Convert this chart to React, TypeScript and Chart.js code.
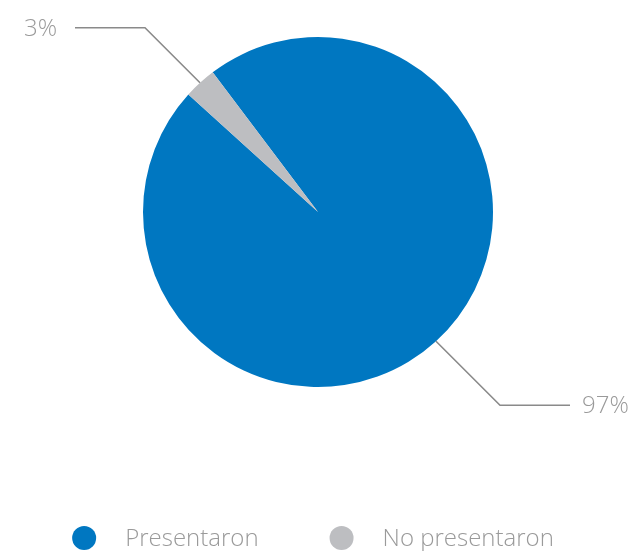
import React, { useEffect, useRef } from "react";
import { Chart, registerables } from "chart.js";

Chart.register(...registerables);

const categories = ["Presentaron", "No presentaron"];
const values = [97, 3];
const valueLabels = ["97%", "3%"];
const colors = ["#0077C1", "#BDBEC1"];

const FONT = "'Open Sans', 'Noto Sans', sans-serif";
const TEXT_COLOR = "#9a9a9a";
const LINE_COLOR = "#8a8a8a";

const leaderPlugin = {
  id: "leaderLabels",
  afterDatasetsDraw(chart: any) {
    const ctx = chart.ctx;
    const meta = chart.getDatasetMeta(0);
    const diag = [64, 55];
    const textGap = [12, 18];
    ctx.save();
    meta.data.forEach((arc: any, i: number) => {
      const { x, y, startAngle, endAngle, outerRadius } = arc.getProps(
        ["x", "y", "startAngle", "endAngle", "outerRadius"],
        true
      );
      const mid = (startAngle + endAngle) / 2;
      const px = x + Math.cos(mid) * outerRadius;
      const py = y + Math.sin(mid) * outerRadius;
      const sx = Math.cos(mid) >= 0 ? 1 : -1;
      const sy = Math.sin(mid) >= 0 ? 1 : -1;
      const d = diag[i] ?? 58;
      const ex = px + sx * d;
      const ey = py + sy * d;
      const hx = ex + sx * 70;
      ctx.beginPath();
      ctx.strokeStyle = LINE_COLOR;
      ctx.lineWidth = 1.6;
      ctx.moveTo(px, py);
      ctx.lineTo(ex, ey);
      ctx.lineTo(hx, ey);
      ctx.stroke();
      ctx.fillStyle = TEXT_COLOR;
      ctx.font = `300 24px ${FONT}`;
      ctx.textBaseline = "middle";
      ctx.textAlign = sx > 0 ? "left" : "right";
      ctx.fillText(valueLabels[i], hx + sx * (textGap[i] ?? 15), ey + 1);
    });
    ctx.restore();
  },
};

const legendPlugin = {
  id: "customLegend",
  afterDraw(chart: any) {
    const ctx = chart.ctx;
    const labels: string[] = chart.data.labels;
    const bg: string[] = chart.data.datasets[0].backgroundColor;
    const r = 12;
    const gapText = 29;
    const spacing = 71;
    const cy = 538;
    ctx.save();
    ctx.font = `300 24px ${FONT}`;
    const widths = labels.map((l) => ctx.measureText(l).width);
    const total =
      widths.reduce((a, w) => a + 2 * r + gapText + w, 0) + spacing * (labels.length - 1);
    let x = chart.width / 2 - 3 - total / 2;
    labels.forEach((l, i) => {
      ctx.beginPath();
      ctx.fillStyle = bg[i];
      ctx.arc(x + r, cy, r, 0, Math.PI * 2);
      ctx.fill();
      ctx.fillStyle = TEXT_COLOR;
      ctx.textAlign = "left";
      ctx.textBaseline = "middle";
      ctx.fillText(l, x + 2 * r + gapText, cy + 1);
      x += 2 * r + gapText + widths[i] + spacing;
    });
    ctx.restore();
  },
};

export default function App() {
  const ref = useRef<HTMLCanvasElement>(null);
  useEffect(() => {
    document.body.style.margin = "0";
    const chart = new Chart(ref.current!, {
      type: "pie",
      data: {
        labels: categories,
        datasets: [
          {
            data: values,
            backgroundColor: colors,
            borderWidth: 0,
          },
        ],
      },
      options: {
        animation: false,
        responsive: false,
        rotation: -37,
        layout: { padding: { top: 37, bottom: 164, left: 143, right: 139 } },
        plugins: {
          legend: { display: false },
          tooltip: { enabled: false },
        },
      },
      plugins: [leaderPlugin, legendPlugin],
    });
    return () => chart.destroy();
  }, []);
  return (
    <div style={{ width: 632, height: 551 }}>
      <canvas ref={ref} width={632} height={551} />
    </div>
  );
}
